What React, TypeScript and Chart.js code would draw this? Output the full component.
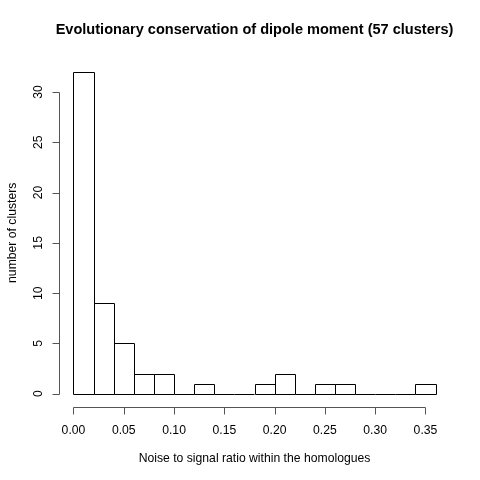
import React, { useEffect, useRef } from "react";
import { Chart, registerables } from "chart.js";

Chart.register(...registerables);

const binEdges = [0, 0.02, 0.04, 0.06, 0.08, 0.1, 0.12, 0.14, 0.16, 0.18, 0.2, 0.22, 0.24, 0.26, 0.28, 0.3, 0.32, 0.34, 0.36];
const counts = [32, 9, 5, 2, 2, 0, 1, 0, 0, 1, 2, 0, 1, 1, 0, 0, 0, 1];
const xTicks = [0, 0.05, 0.1, 0.15, 0.2, 0.25, 0.3, 0.35];
const xTickLabels = ["0.00", "0.05", "0.10", "0.15", "0.20", "0.25", "0.30", "0.35"];
const yTicks = [0, 5, 10, 15, 20, 25, 30];
const yTickLabels = ["0", "5", "10", "15", "20", "25", "30"];
const titleText = "Evolutionary conservation of dipole moment (57 clusters)";
const xLabel = "Noise to signal ratio within the homologues";
const yLabel = "number of clusters";

const FONT = '"Liberation Sans", Arial, Helvetica, sans-serif';

const rPlugin = {
  id: "rstyle",
  afterDatasetsDraw(chart: any) {
    const ctx = chart.ctx as CanvasRenderingContext2D;
    const xs = chart.scales.x;
    const ys = chart.scales.y;
    ctx.save();
    ctx.strokeStyle = "#000";
    ctx.lineWidth = 1;
    // bar outlines
    const meta = chart.getDatasetMeta(0);
    meta.data.forEach((el: any) => {
      const p = el.getProps(["x", "y", "base", "width"], true);
      const l = Math.round(p.x - p.width / 2) + 0.5;
      const r = Math.round(p.x + p.width / 2) + 0.5;
      const t = Math.round(Math.min(p.y, p.base)) + 0.5;
      const b = Math.round(Math.max(p.y, p.base)) + 0.5;
      ctx.beginPath();
      if (b - t < 0.5) {
        ctx.moveTo(l, b);
        ctx.lineTo(r, b);
      } else {
        ctx.rect(l, t, r - l, b - t);
      }
      ctx.stroke();
    });

    const area = chart.chartArea;
    const axisColor = "#555";
    ctx.strokeStyle = axisColor;
    // y axis
    const yx = Math.round(area.left) + 0.5;
    ctx.beginPath();
    ctx.moveTo(yx, Math.round(ys.getPixelForValue(yTicks[0])) + 0.5);
    ctx.lineTo(yx, Math.round(ys.getPixelForValue(yTicks[yTicks.length - 1])) + 0.5);
    yTicks.forEach((v) => {
      const py = Math.round(ys.getPixelForValue(v)) + 0.5;
      ctx.moveTo(yx, py);
      ctx.lineTo(yx - 7, py);
    });
    ctx.stroke();
    // x axis
    const xy = Math.round(area.bottom) + 0.5;
    ctx.beginPath();
    ctx.moveTo(Math.round(xs.getPixelForValue(xTicks[0])) + 0.5, xy);
    ctx.lineTo(Math.round(xs.getPixelForValue(xTicks[xTicks.length - 1])) + 0.5, xy);
    xTicks.forEach((v) => {
      const px = Math.round(xs.getPixelForValue(v)) + 0.5;
      ctx.moveTo(px, xy);
      ctx.lineTo(px, xy + 7);
    });
    ctx.stroke();

    // labels
    ctx.fillStyle = "#000";
    ctx.font = `12.2px ${FONT}`;
    ctx.textAlign = "center";
    ctx.textBaseline = "middle";
    xTicks.forEach((v, i) => {
      ctx.fillText(xTickLabels[i], xs.getPixelForValue(v), area.bottom + 24);
    });
    yTicks.forEach((v, i) => {
      ctx.save();
      ctx.translate(area.left - 20, ys.getPixelForValue(v));
      ctx.rotate(-Math.PI / 2);
      ctx.fillText(yTickLabels[i], 0, 0);
      ctx.restore();
    });
    // axis titles
    ctx.fillText(xLabel, (area.left + area.right) / 2, 459);
    ctx.save();
    ctx.translate(13, (area.top + area.bottom) / 2);
    ctx.rotate(-Math.PI / 2);
    ctx.fillText(yLabel, 0, 0);
    ctx.restore();
    // main title
    ctx.font = `bold 14.55px ${FONT}`;
    ctx.fillText(titleText, (area.left + area.right) / 2, 30);
    ctx.restore();
  },
};

export default function App() {
  const ref = useRef<HTMLCanvasElement>(null);
  useEffect(() => {
    if (!ref.current) return;
    const data = counts.map((c, i) => ({ x: (binEdges[i] + binEdges[i + 1]) / 2, y: c }));
    const xMin = binEdges[0];
    const xMax = binEdges[binEdges.length - 1];
    const yMax = Math.max(...counts);
    const chart = new Chart(ref.current, {
      type: "bar",
      data: {
        datasets: [
          {
            data: data as any,
            backgroundColor: "rgba(255,255,255,0)",
            borderWidth: 0,
            barPercentage: 1,
            categoryPercentage: 1,
          },
        ],
      },
      options: {
        responsive: false,
        animation: false,
        devicePixelRatio: 1,
        layout: { padding: { left: 59, right: 30, top: 59, bottom: 73.4 } },
        plugins: { legend: { display: false }, tooltip: { enabled: false } },
        scales: {
          x: {
            type: "linear",
            display: false,
            offset: false,
            min: xMin - (xMax - xMin) * 0.04,
            max: xMax + (xMax - xMin) * 0.04,
          },
          y: {
            type: "linear",
            display: false,
            min: -yMax * 0.04,
            max: yMax * 1.04,
          },
        },
      },
      plugins: [rPlugin],
    });
    return () => chart.destroy();
  }, []);
  return (
    <div style={{ position: "fixed", left: 0, top: 0, width: 480, height: 480, background: "#fff" }}>
      <canvas ref={ref} width={480} height={480} style={{ width: 480, height: 480, display: "block" }} />
    </div>
  );
}
